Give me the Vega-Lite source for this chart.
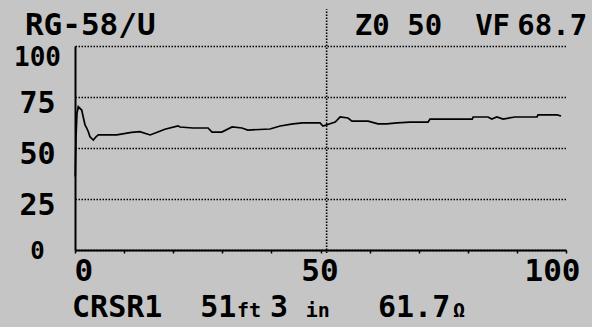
{
  "$schema": "https://vega.github.io/schema/vega-lite/v6.json",
  "width": 491,
  "height": 204,
  "autosize": {"type": "none"},
  "padding": {"left": 75, "top": 46, "right": 26, "bottom": 77},
  "background": "#c5c5c5",
  "config": {
    "view": {"stroke": null},
    "text": {"font": "DejaVu Sans Mono", "fontWeight": "bold", "color": "black"}
  },
  "datasets": {
    "trace": [
      {"d": 0.05, "z": 36}, {"d": 0.2, "z": 55}, {"d": 0.4, "z": 67}, {"d": 0.67, "z": 70.2},
      {"d": 1.36, "z": 68.6}, {"d": 2.04, "z": 61.3}, {"d": 2.38, "z": 59.8}, {"d": 2.71, "z": 58.0},
      {"d": 3.05, "z": 55.5}, {"d": 3.73, "z": 53.9}, {"d": 4.28, "z": 55.5}, {"d": 4.75, "z": 56.4},
      {"d": 8.5, "z": 56.4}, {"d": 11.5, "z": 57.7}, {"d": 13.2, "z": 58.0}, {"d": 15.3, "z": 56.4},
      {"d": 17.0, "z": 58.0}, {"d": 18.3, "z": 59.2}, {"d": 21.0, "z": 60.8}, {"d": 21.4, "z": 60.3},
      {"d": 24.0, "z": 59.8}, {"d": 27.1, "z": 59.8}, {"d": 27.9, "z": 57.8}, {"d": 29.9, "z": 57.8},
      {"d": 32.0, "z": 60.3}, {"d": 34.0, "z": 59.8}, {"d": 35.2, "z": 58.8}, {"d": 39.7, "z": 59.3},
      {"d": 41.8, "z": 60.8}, {"d": 44.4, "z": 61.8}, {"d": 46.4, "z": 62.3}, {"d": 49.9, "z": 62.3},
      {"d": 50.5, "z": 60.8}, {"d": 53.0, "z": 62.7}, {"d": 54.0, "z": 65.2}, {"d": 55.6, "z": 64.7},
      {"d": 56.4, "z": 63.2}, {"d": 59.7, "z": 63.2}, {"d": 61.7, "z": 61.8}, {"d": 63.5, "z": 61.8},
      {"d": 65.6, "z": 62.3}, {"d": 68.2, "z": 62.7}, {"d": 71.9, "z": 62.7}, {"d": 72.3, "z": 64.2},
      {"d": 80.9, "z": 64.2}, {"d": 81.1, "z": 65.2}, {"d": 84.1, "z": 65.2}, {"d": 84.9, "z": 64.2},
      {"d": 85.9, "z": 65.2}, {"d": 87.2, "z": 64.2}, {"d": 89.6, "z": 65.2}, {"d": 94.1, "z": 65.2},
      {"d": 94.3, "z": 66.2}, {"d": 98.2, "z": 66.2}, {"d": 99.0, "z": 65.7}
    ],
    "one": [{}]
  },
  "layer": [
    {
      "data": {"name": "trace"},
      "mark": {"type": "line", "color": "black", "strokeWidth": 1.7, "interpolate": "linear"},
      "encoding": {
        "x": {
          "field": "d", "type": "quantitative",
          "scale": {"domain": [0, 100], "nice": false},
          "axis": {
            "title": null, "grid": false,
            "values": [0, 10, 20, 30, 40, 50, 60, 70, 80, 90, 100],
            "labelExpr": "datum.value % 50 == 0 ? datum.label : ''",
            "labelFlush": false, "labelOverlap": false, "labelBound": false,
            "labelAlign": {"condition": {"test": "datum.value == 0", "value": "left"}, "value": "center"},
            "labelOffset": {"condition": {"test": "datum.value == 100", "value": -14}, "value": -1},
            "domainColor": "black", "domainWidth": 2,
            "tickColor": "black", "tickSize": 3, "tickWidth": 1.5,
            "labelFont": "DejaVu Sans Mono",
            "labelFontWeight": "bold", "labelFontSize": 31, "labelColor": "black",
            "labelPadding": 3
          }
        },
        "y": {
          "field": "z", "type": "quantitative",
          "scale": {"domain": [0, 100], "nice": false},
          "axis": {
            "title": null,
            "values": [0, 25, 50, 75, 100],
            "grid": true, "gridColor": "black", "gridDash": [1.5, 1.5], "gridWidth": 1.4, "gridOpacity": 1,
            "ticks": false,
            "domainColor": "black", "domainWidth": 2,
            "labelFont": "DejaVu Sans Mono",
            "labelFontWeight": "bold",
            "labelFontSize": {"condition": [{"test": "datum.value == 0", "value": 24}, {"test": "datum.value == 100", "value": 26}], "value": 30},
            "labelColor": "black",
            "labelAlign": "center", "labelBaseline": "middle",
            "labelPadding": 38,
            "labelOffset": {"condition": [{"test": "datum.value == 100", "value": 11}, {"test": "datum.value == 0", "value": 1}], "value": 6},
            "labelOverlap": false, "labelBound": false
          }
        }
      }
    },
    {
      "data": {"name": "one"},
      "mark": {"type": "rule", "color": "black", "strokeDash": [1.5, 1.5], "strokeWidth": 1.6},
      "encoding": {"x": {"datum": 51.25, "type": "quantitative"}, "y": {"datum": -1.5, "type": "quantitative"}, "y2": {"datum": 118}}
    },
    {
      "data": {"name": "one"},
      "mark": {"type": "text", "fontSize": 31, "align": "left", "baseline": "alphabetic"},
      "encoding": {"x": {"datum": -10.2, "type": "quantitative"}, "y": {"datum": 105.4, "type": "quantitative"}, "text": {"value": "RG-58/U"}}
    },
    {
      "data": {"name": "one"},
      "mark": {"type": "text", "fontSize": 29, "align": "left", "baseline": "alphabetic"},
      "encoding": {"x": {"datum": 57.0, "type": "quantitative"}, "y": {"datum": 105.4, "type": "quantitative"}, "text": {"value": "Z0 50"}}
    },
    {
      "data": {"name": "one"},
      "mark": {"type": "text", "fontSize": 29, "align": "left", "baseline": "alphabetic"},
      "encoding": {"x": {"datum": 81.5, "type": "quantitative"}, "y": {"datum": 105.4, "type": "quantitative"}, "text": {"value": "VF"}}
    },
    {
      "data": {"name": "one"},
      "mark": {"type": "text", "fontSize": 29, "align": "right", "baseline": "alphabetic"},
      "encoding": {"x": {"datum": 104.3, "type": "quantitative"}, "y": {"datum": 105.4, "type": "quantitative"}, "text": {"value": "68.7"}}
    },
    {
      "data": {"name": "one"},
      "mark": {"type": "text", "fontSize": 30, "align": "left", "baseline": "alphabetic"},
      "encoding": {"x": {"datum": -0.6, "type": "quantitative"}, "y": {"datum": -32.8, "type": "quantitative"}, "text": {"value": "CRSR1"}}
    },
    {
      "data": {"name": "one"},
      "mark": {"type": "text", "fontSize": 30, "align": "left", "baseline": "alphabetic"},
      "encoding": {"x": {"datum": 25.5, "type": "quantitative"}, "y": {"datum": -32.8, "type": "quantitative"}, "text": {"value": "51"}}
    },
    {
      "data": {"name": "one"},
      "mark": {"type": "text", "fontSize": 20, "align": "left", "baseline": "alphabetic"},
      "encoding": {"x": {"datum": 33.0, "type": "quantitative"}, "y": {"datum": -32.8, "type": "quantitative"}, "text": {"value": "ft"}}
    },
    {
      "data": {"name": "one"},
      "mark": {"type": "text", "fontSize": 30, "align": "left", "baseline": "alphabetic"},
      "encoding": {"x": {"datum": 39.7, "type": "quantitative"}, "y": {"datum": -32.8, "type": "quantitative"}, "text": {"value": "3"}}
    },
    {
      "data": {"name": "one"},
      "mark": {"type": "text", "fontSize": 20, "align": "left", "baseline": "alphabetic"},
      "encoding": {"x": {"datum": 47.0, "type": "quantitative"}, "y": {"datum": -32.8, "type": "quantitative"}, "text": {"value": "in"}}
    },
    {
      "data": {"name": "one"},
      "mark": {"type": "text", "fontSize": 30, "align": "left", "baseline": "alphabetic"},
      "encoding": {"x": {"datum": 61.7, "type": "quantitative"}, "y": {"datum": -32.8, "type": "quantitative"}, "text": {"value": "61.7"}}
    },
    {
      "data": {"name": "one"},
      "mark": {"type": "text", "fontSize": 20, "align": "left", "baseline": "alphabetic"},
      "encoding": {"x": {"datum": 77.0, "type": "quantitative"}, "y": {"datum": -32.8, "type": "quantitative"}, "text": {"value": "Ω"}}
    }
  ]
}
